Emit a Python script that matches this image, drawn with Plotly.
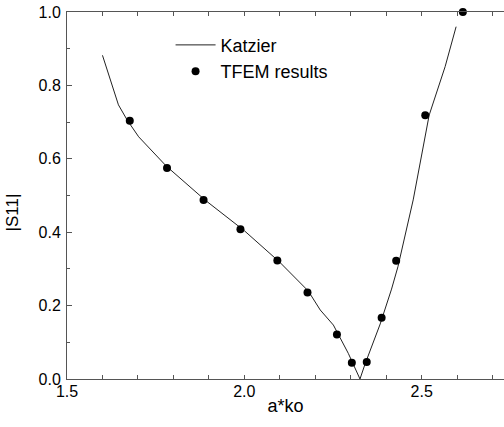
import plotly.graph_objects as go

# Katzier reference curve
katz_x = [1.600, 1.622, 1.645, 1.670, 1.702, 1.780, 1.890, 2.000, 2.100, 2.180,
          2.214, 2.251, 2.293, 2.326, 2.340, 2.383, 2.415, 2.433, 2.476, 2.521,
          2.566, 2.597]
katz_y = [0.882, 0.815, 0.747, 0.705, 0.660, 0.580, 0.487, 0.404, 0.318, 0.240,
          0.188, 0.147, 0.070, 0.000, 0.040, 0.150, 0.245, 0.306, 0.488, 0.719,
          0.851, 0.960]

# TFEM results
tfem_x = [1.677, 1.782, 1.885, 1.989, 2.093, 2.178, 2.261, 2.303, 2.345, 2.387,
          2.428, 2.510, 2.616]
tfem_y = [0.704, 0.575, 0.488, 0.408, 0.323, 0.236, 0.121, 0.044, 0.046, 0.167,
          0.322, 0.719, 1.000]

x_ticks = [1.5, 2.0, 2.5]
x_labels = ["1.5", "2.0", "2.5"]
y_ticks = [0.0, 0.2, 0.4, 0.6, 0.8, 1.0]
y_labels = ["0.0", "0.2", "0.4", "0.6", "0.8", "1.0"]

fig = go.Figure()
fig.add_trace(go.Scatter(x=katz_x, y=katz_y, mode="lines", name="Katzier",
                         line=dict(color="#222222", width=1), cliponaxis=False))
fig.add_trace(go.Scatter(x=tfem_x, y=tfem_y, mode="markers", name="TFEM results",
                         marker=dict(color="black", size=8), cliponaxis=False))

font = "Liberation Sans, Arial, Helvetica, sans-serif"
fig.update_layout(
    width=504, height=427,
    margin=dict(l=67, r=0, t=12, b=48),
    plot_bgcolor="white", paper_bgcolor="white",
    font=dict(family=font, size=14, color="black"),
    showlegend=True,
    legend=dict(x=0.237, y=0.96, xanchor="left", yanchor="top",
                bgcolor="rgba(0,0,0,0)", font=dict(size=18, color="black"),
                itemwidth=40, tracegroupgap=0),
    xaxis=dict(range=[1.5, 2.732], tickvals=x_ticks, ticktext=x_labels,
               showgrid=False, zeroline=False, showline=True, linecolor="#555555",
               linewidth=1, mirror="ticks", ticks="inside", ticklen=4,
               tickcolor="#555555", ticklabelstandoff=-2,
               minor=dict(dtick=0.1, ticks="inside", ticklen=4, tickcolor="#555555"),
               title=dict(text="a*ko", font=dict(size=18), standoff=0),
               tickfont=dict(size=16)),
    yaxis=dict(range=[0, 1.0], tickvals=y_ticks, ticktext=y_labels,
               showgrid=False, zeroline=False, showline=True, linecolor="#555555",
               linewidth=1, ticks="inside", ticklen=5, tickcolor="#555555",
               ticklabelstandoff=2,
               minor=dict(dtick=0.1, ticks="inside", ticklen=3, tickcolor="#555555"),
               tickfont=dict(size=16)),
    annotations=[dict(text="|S11|", xref="paper", yref="paper", x=-0.125, y=0.455,
                      xanchor="center", yanchor="middle", textangle=-90,
                      showarrow=False, font=dict(size=17))],
)

fig.write_html("out.html")
